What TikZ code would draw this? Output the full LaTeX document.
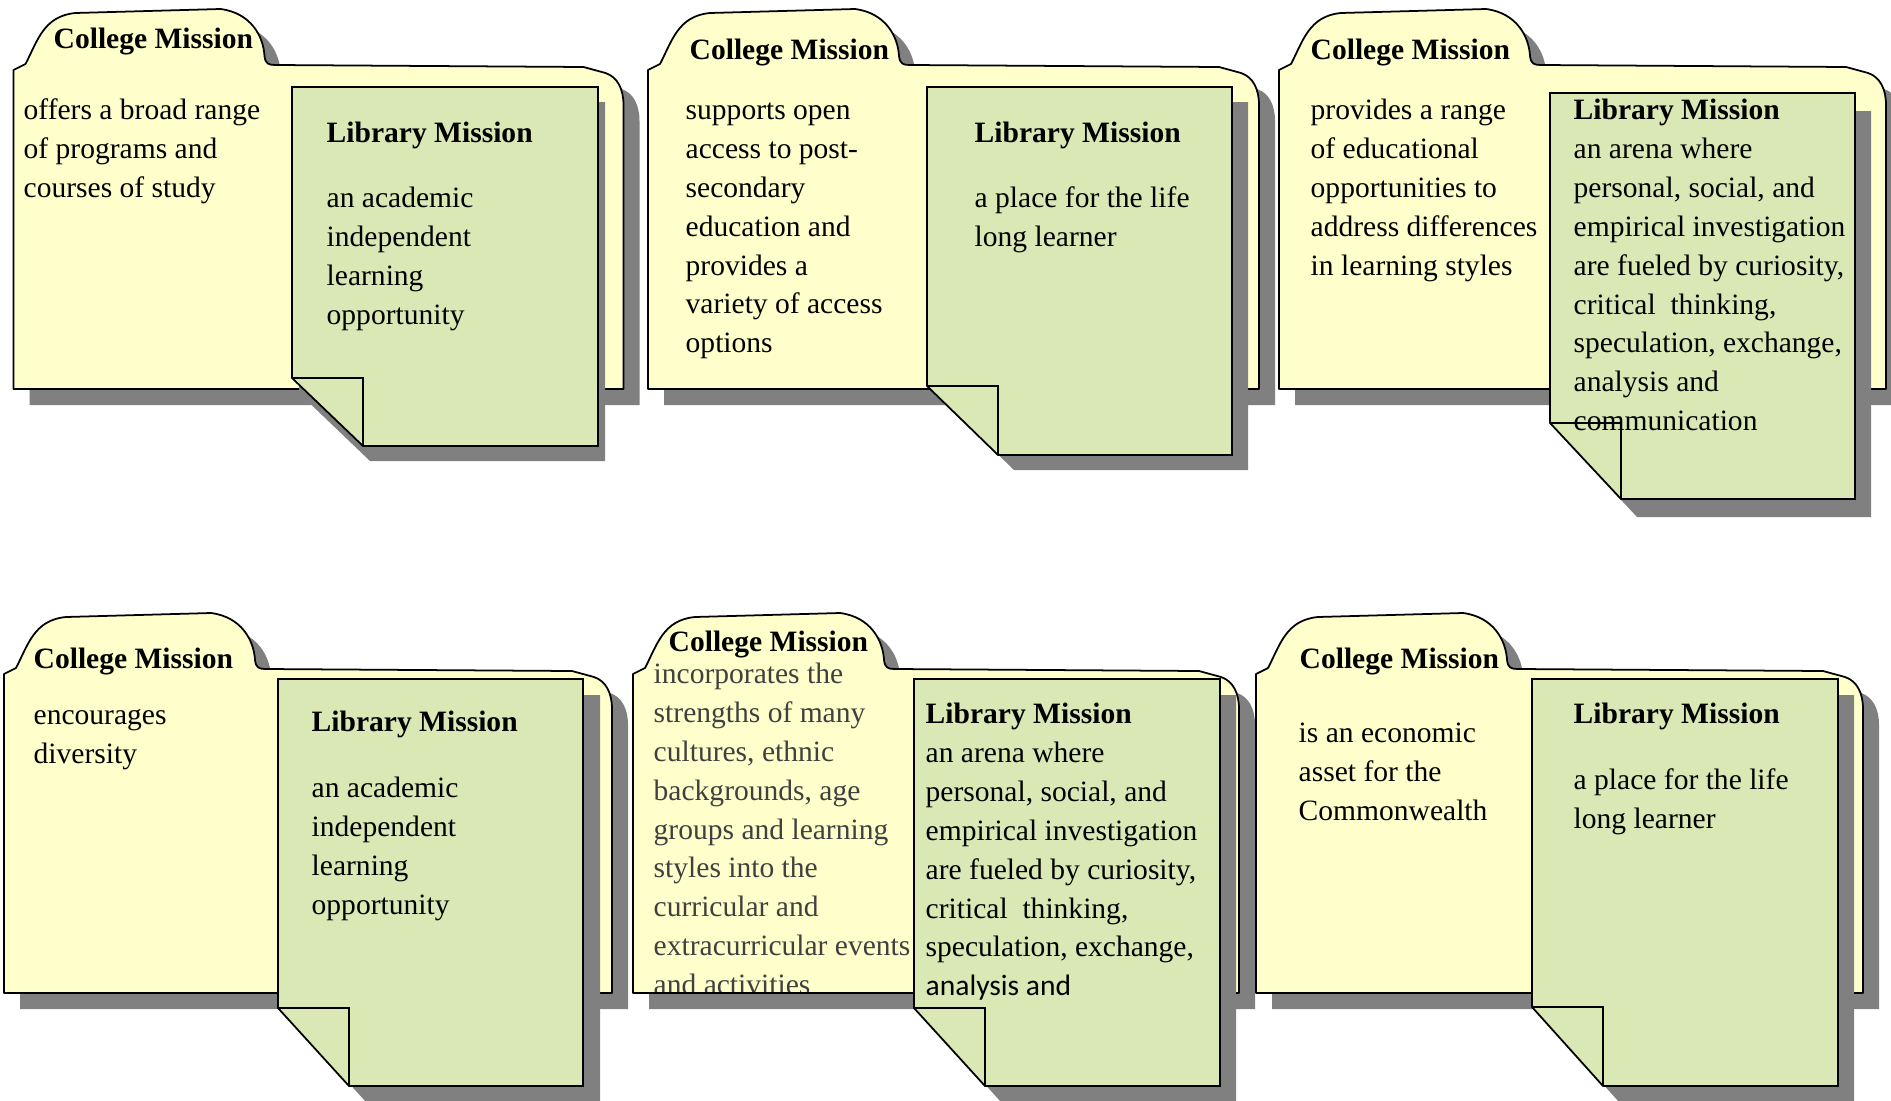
\documentclass[tikz,border=0pt]{standalone}
\usepackage{fontspec}
\setmainfont{Liberation Serif}
\newfontfamily\calibrifont{Carlito}
\definecolor{folderyellow}{HTML}{FFFFCC}
\definecolor{notegreen}{HTML}{D9E8B5}
\definecolor{shadowgray}{HTML}{808080}
% folder outline, origin at the top of the tab, #1 = width
\newcommand{\folderpath}[1]{(0,380) -- (0,61) -- (12,55) .. controls (24,32) and (30,7) .. (62,4)
  -- (207,0) .. controls (238,4) and (250,28) .. (251,47) .. controls (252,55) and (255,56) .. (262,56)
  -- ({#1-40},58) -- ({#1-18},64) .. controls ({#1-6},68) and (#1,80) .. (#1,96) -- (#1,380) -- cycle}
% note sheet with the folded corner: left, top, right, bottom, fold line
\newcommand{\notepath}[5]{(#1,#2) -- (#3,#2) -- (#3,#4) -- ({#1+71},#4) -- (#1,#5) -- cycle}
\newcommand{\noteflap}[3]{(#1,#3) -- ({#1+71},#3) -- ({#1+71},#2)}
\begin{document}
\begin{tikzpicture}[x=0.01cm, y=-0.01cm,
    folderbox/.style={fill=folderyellow, draw=black, line width=0.5pt, line join=round},
    notebox/.style={fill=notegreen, draw=black, line width=0.5pt, line join=miter},
    dropshadow/.style={fill=shadowgray},
    missiontitle/.style={font=\fontsize{8.4}{11.04}\selectfont\bfseries, anchor=base west, inner sep=0pt},
    missiontext/.style={font=\fontsize{8.4}{11.04}\selectfont, align=left, anchor=base west, inner sep=0pt}]
  \useasboundingbox (0,0) rectangle (1891,1100);
  % text nodes are placed at the baseline of their last line

  % first folder
  \fill[dropshadow, shift={(29.5,25)}] \folderpath{610};
  \filldraw[folderbox, shift={(13.5,9)}] \folderpath{610};
  \node[missiontitle] (college1) at (53,48) {College Mission};
  \node[missiontext] (collegetext1) at (23,197.6) {offers a broad range\\of programs and\\courses of study};
  \fill[dropshadow, shift={(7,15)}] \notepath{292}{87}{598}{446}{378};
  \filldraw[notebox] \notepath{292}{87}{598}{446}{378};
  \draw[notebox, fill=none] \noteflap{292}{446}{378};
  \node[missiontitle] (library1) at (326,142) {Library Mission};
  \node[missiontext] (librarytext1) at (326,324.4) {an academic\\independent\\learning\\opportunity};

  % second folder
  \fill[dropshadow, shift={(664,25)}] \folderpath{611};
  \filldraw[folderbox, shift={(648,9)}] \folderpath{611};
  \node[missiontitle] (college2) at (689,59) {College Mission};
  \node[missiontext] (collegetext2) at (685,352.8) {supports open\\access to post-\\secondary\\education and\\provides a\\variety of access\\options};
  \fill[dropshadow, shift={(16,15)}] \notepath{927}{87}{1232}{455}{386};
  \filldraw[notebox] \notepath{927}{87}{1232}{455}{386};
  \draw[notebox, fill=none] \noteflap{927}{455}{386};
  \node[missiontitle] (library2) at (974,142) {Library Mission};
  \node[missiontext] (librarytext2) at (974,246.8) {a place for the life\\long learner};

  % third folder
  \fill[dropshadow, shift={(1295,25)}] \folderpath{607};
  \filldraw[folderbox, shift={(1279,9)}] \folderpath{607};
  \node[missiontitle] (college3) at (1310,59) {College Mission};
  \node[missiontext] (collegetext3) at (1310,275.2) {provides a range\\of educational\\opportunities to\\address differences\\in learning styles};
  \fill[dropshadow, shift={(16,18)}] \notepath{1550}{93}{1855}{499}{423};
  \filldraw[notebox] \notepath{1550}{93}{1855}{499}{423};
  \draw[notebox, fill=none] \noteflap{1550}{499}{423};
  \node[missiontitle] (library3) at (1573,119) {Library Mission};
  \node[missiontext] (librarytext3) at (1573,430.6) {an arena where\\personal, social, and\\empirical investigation\\are fueled by curiosity,\\critical\ \ thinking,\\speculation, exchange,\\analysis and\\communication};

  % fourth folder
  \fill[dropshadow, shift={(20,629)}] \folderpath{608};
  \filldraw[folderbox, shift={(4,613)}] \folderpath{608};
  \node[missiontitle] (college4) at (33,668) {College Mission};
  \node[missiontext] (collegetext4) at (33,763.8) {encourages\\diversity};
  \fill[dropshadow, shift={(17,16)}] \notepath{278}{679}{583}{1086}{1008};
  \filldraw[notebox] \notepath{278}{679}{583}{1086}{1008};
  \draw[notebox, fill=none] \noteflap{278}{1086}{1008};
  \node[missiontitle] (library4) at (311,731) {Library Mission};
  \node[missiontext] (librarytext4) at (311,914.4) {an academic\\independent\\learning\\opportunity};

  % fifth folder, its text runs past the bottom edge
  \fill[dropshadow, shift={(649,629)}] \folderpath{606};
  \filldraw[folderbox, shift={(633,613)}] \folderpath{606};
  \node[missiontitle] (college5) at (668,651) {College Mission};
  \begin{scope}
    \clip[shift={(633,613)}] \folderpath{606};
    \node[missiontext, text=black!75] (collegetext5) at (653,994.4) {incorporates the\\strengths of many\\cultures, ethnic\\backgrounds, age\\groups and learning\\styles into the\\curricular and\\extracurricular events\\and activities};
  \end{scope}
  \draw[line width=0.5pt] (633,993) -- (914,993);
  \fill[dropshadow, shift={(16,16)}] \notepath{914}{679}{1220}{1086}{1008};
  \filldraw[notebox] \notepath{914}{679}{1220}{1086}{1008};
  \draw[notebox, fill=none] \noteflap{914}{1086}{1008};
  \node[missiontitle] (library5) at (925,723) {Library Mission};
  \node[missiontext] (librarytext5) at (925,995.8) {an arena where\\personal, social, and\\empirical investigation\\are fueled by curiosity,\\critical\ \ thinking,\\speculation, exchange,\\{\calibrifont analysis and}};

  % sixth folder
  \fill[dropshadow, shift={(1272,629)}] \folderpath{607};
  \filldraw[folderbox, shift={(1256,613)}] \folderpath{607};
  \node[missiontitle] (college6) at (1299,668) {College Mission};
  \node[missiontext] (collegetext6) at (1298,820.6) {is an economic\\asset for the\\Commonwealth};
  \fill[dropshadow, shift={(16,16)}] \notepath{1532}{679}{1838}{1086}{1007};
  \filldraw[notebox] \notepath{1532}{679}{1838}{1086}{1007};
  \draw[notebox, fill=none] \noteflap{1532}{1086}{1007};
  \node[missiontitle] (library6) at (1573,723) {Library Mission};
  \node[missiontext] (librarytext6) at (1573,828.8) {a place for the life\\long learner};
\end{tikzpicture}
\end{document}
